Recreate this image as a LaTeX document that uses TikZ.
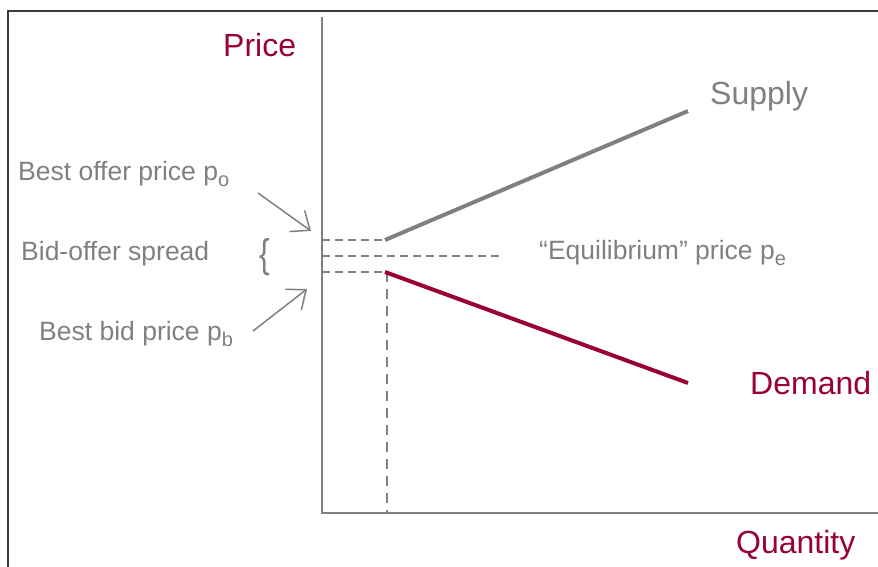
\documentclass[tikz,border=0pt]{standalone}
\usepackage{fontspec}
\setmainfont{Liberation Sans}
\usetikzlibrary{arrows.meta}
\definecolor{axgray}{RGB}{128,128,128}
\definecolor{crim}{RGB}{153,0,51}
\definecolor{framec}{RGB}{60,60,60}
\newcommand\psub[1]{\raisebox{-0.25em}{\fontsize{20}{20}\selectfont #1}}
\begin{document}
\begin{tikzpicture}[x=1pt,y=-1pt,
  bigred/.style={font=\fontsize{32}{36}\selectfont, text=crim, inner sep=0pt, anchor=base west},
  biggray/.style={font=\fontsize{32}{36}\selectfont, text=axgray, inner sep=0pt, anchor=base west},
  small/.style={font=\fontsize{26.5}{30}\selectfont, text=axgray, inner sep=0pt, anchor=base west},
  axisline/.style={draw=axgray, line width=2pt},
  guide/.style={draw=axgray, line width=1.5pt, dash pattern=on 8pt off 5pt},
  vguide/.style={draw=axgray, line width=1.5pt, dash pattern=on 10pt off 7pt},
  pointer/.style={draw=axgray, line width=1.5pt, -{Straight Barb[length=16pt,width=26pt,line width=1.5pt]}}
]
\useasboundingbox (0,0) rectangle (878,567);
% frame (only top and left edges visible)
\draw[framec, line width=1.5pt] (8,567) -- (8,11) -- (878,11);
% axes
\coordinate (ytop) at (322,17);
\coordinate (origin) at (322,513);
\coordinate (xend) at (878,513);
\draw[axisline] (ytop) -- (origin) -- (xend);
% key points
\coordinate (offer) at (385,240);
\coordinate (bid) at (385,272);
\coordinate (offerY) at (322,240);
\coordinate (bidY) at (322,272);
\coordinate (eqY) at (322,256);
\coordinate (eqEnd) at (500,256);
\coordinate (bidX) at (387,272);
\coordinate (bidXb) at (387,513);
\coordinate (supEnd) at (688,111);
\coordinate (demEnd) at (688,383);
% guides
\draw[guide] (offerY) -- (offer);
\draw[guide] (eqY) -- (eqEnd);
\draw[guide] (bidY) -- (bid);
\draw[vguide] (bidX) -- (bidXb);
% curves
\draw[axgray, line width=4pt] (offer) -- (supEnd);
\draw[crim, line width=4pt] (bid) -- (demEnd);
% labels
\node[bigred] (price) at (223,57) {Price};
\node[biggray] (supply) at (710,105) {Supply};
\node[bigred] (demand) at (750,394) {Demand};
\node[bigred] (quantity) at (736,553) {Quantity};
\node[small] (bestoffer) at (18,180) {Best offer price p\psub{o}};
\node[small] (spread) at (21,260) {Bid-offer spread};
\node[small] (bestbid) at (39,340) {Best bid price p\psub{b}};
\node[small] (equil) at (539,259) {“Equilibrium” price p\psub{e}};
\node[font=\fontsize{40}{40}\selectfont, text=axgray, inner sep=0pt, xscale=0.8] (brace) at (265,257) {\{};
% pointers
\coordinate (offerTail) at (258,193);
\coordinate (offerTip) at (311,231);
\coordinate (bidTail) at (253,331);
\coordinate (bidTip) at (307,289);
\draw[pointer] (offerTail) -- (offerTip);
\draw[pointer] (bidTail) -- (bidTip);
\end{tikzpicture}
\end{document}
